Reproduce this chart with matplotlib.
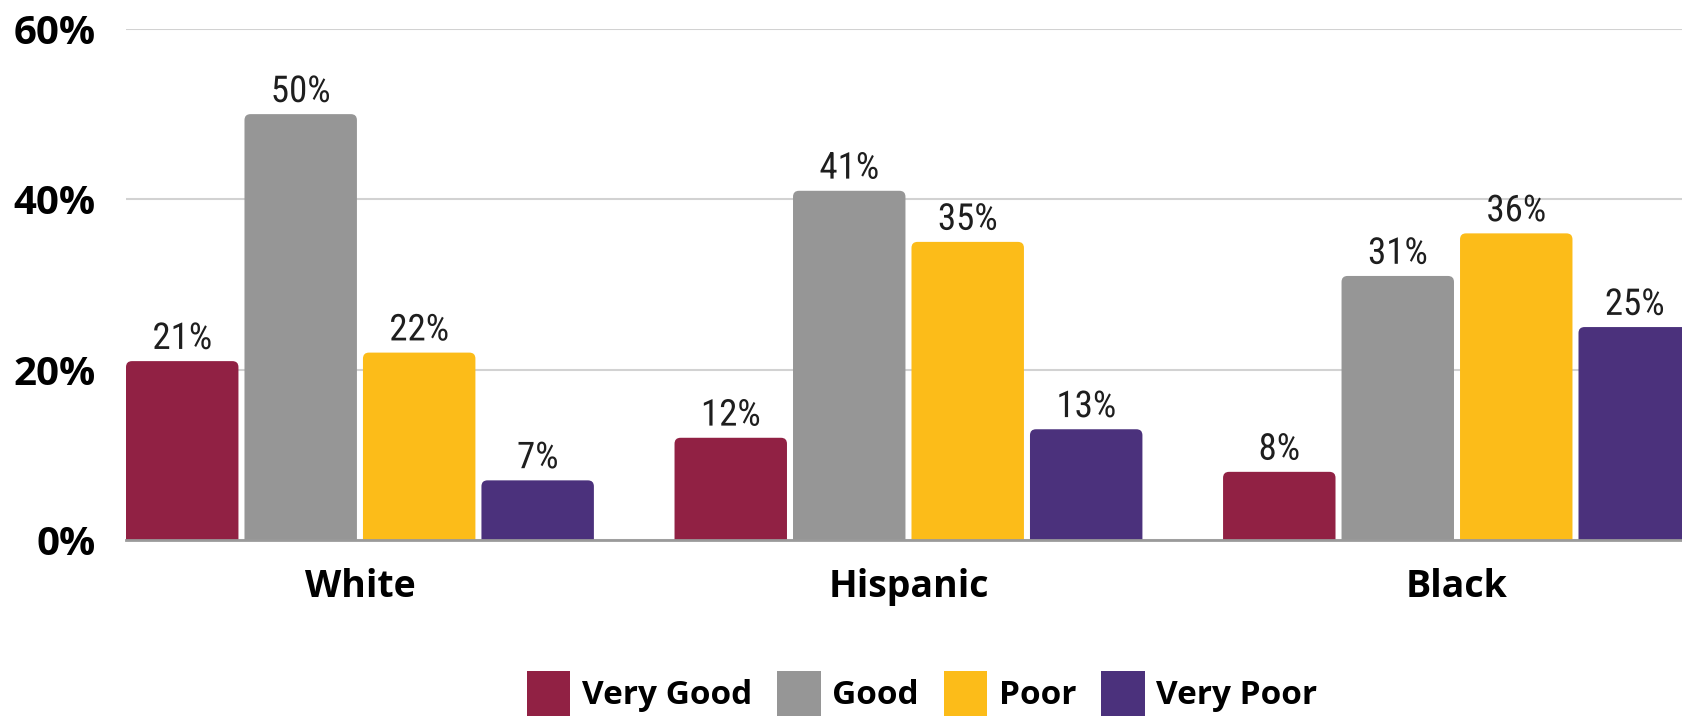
import numpy as np
import matplotlib.pyplot as plt
import matplotlib.transforms as mtransforms
from matplotlib import font_manager
from matplotlib.font_manager import FontProperties
from matplotlib.patches import FancyBboxPatch, Patch
from matplotlib.patheffects import AbstractPathEffect
from matplotlib.textpath import TextPath

groups = ["White", "Hispanic", "Black"]
series = ["Very Good", "Good", "Poor", "Very Poor"]
very_good = [21, 12, 8]
good = [50, 41, 31]
poor = [22, 35, 36]
very_poor = [7, 13, 25]
yticks = [0, 20, 40, 60]

colors = ["#912144", "#969696", "#FCBC19", "#4B317C"]
values = [very_good, good, poor, very_poor]

DPI = 100
fig = plt.figure(figsize=(16.83, 7.17), dpi=DPI)
ax = fig.add_axes([0.0748, 0.2469, 0.9252, 0.7127])

x = np.arange(len(groups))
step = 0.216
width = 0.205
xlim = (-0.4267, 2.412)
ax.set_xlim(*xlim)
ax.set_ylim(0, 60)

# pixel scales, used for the small rounding on top of the bars
ax_w = 0.9252 * 16.83 * DPI
ax_h = 0.7127 * 7.17 * DPI
px_x = ax_w / (xlim[1] - xlim[0])
px_y = ax_h / 60.0
r = 6 / px_x


class Squeeze(AbstractPathEffect):
    """draw text narrower than the font (the original uses a condensed face)"""

    def __init__(self, sx):
        super().__init__()
        self.sx = sx

    def draw_path(self, renderer, gc, tpath, affine, rgbFace=None):
        ext = tpath.get_extents()
        cx = (ext.x0 + ext.x1) / 2
        a = mtransforms.Affine2D().translate(-cx, 0).scale(self.sx, 1).translate(cx, 0) + affine
        renderer.draw_path(gc, tpath, a, rgbFace)


names = {f.name for f in font_manager.fontManager.ttflist}
narrow = None
for n in ["Liberation Sans Narrow", "Roboto Condensed", "Open Sans Condensed", "DejaVu Sans Condensed"]:
    if n in names:
        narrow = n
        break
if narrow:
    lab_prop = FontProperties(family=narrow)
else:
    lab_prop = FontProperties(family=["Roboto", "DejaVu Sans"], weight="light")

ext = TextPath((0, 0), "50%", size=1, prop=lab_prop).get_extents()
lab_size = 27 / ext.height * 72 / DPI          # points, so "50%" is ~27 px tall
squeeze = min(1.0, 58 / (ext.width * lab_size * DPI / 72))

handles = []
for i, (name, vals, col) in enumerate(zip(series, values, colors)):
    bars = ax.bar(x + (i - 1.5) * step, vals, width, color=col, zorder=3)
    for rect, v in zip(bars, vals):
        rect.set_visible(False)
        bx, bw = rect.get_x(), rect.get_width()
        ax.add_patch(FancyBboxPatch((bx, -3), bw, v + 3,
                                    boxstyle="round,pad=0,rounding_size=%f" % r,
                                    mutation_aspect=(6 / px_y) / r,
                                    facecolor=col, edgecolor="none", zorder=3))
    texts = ax.bar_label(bars, labels=["%d%%" % v for v in vals], padding=3,
                         fontproperties=lab_prop, fontsize=lab_size, color="#1e1e1e",
                         zorder=5, clip_on=False)
    for t in texts:
        t.set_path_effects([Squeeze(squeeze)])
    handles.append(Patch(facecolor=col, label=name))

ax.set_yticks(yticks)
ax.set_yticklabels(["%d%%" % t for t in yticks], fontsize=29, fontweight="bold",
                   family=["Open Sans", "DejaVu Sans"])
ax.set_xticks(x)
ax.set_xticklabels(groups, fontsize=27, fontweight="bold", family=["Open Sans", "DejaVu Sans"])
ax.tick_params(axis="y", length=0, pad=22)
ax.tick_params(axis="x", length=0, pad=20)

ax.yaxis.grid(True, color="#d2d2d2", linewidth=1.5, zorder=0)
ax.set_axisbelow(True)
for s in ["top", "right", "left"]:
    ax.spines[s].set_visible(False)
ax.spines["bottom"].set_color("#9a9a9a")
ax.spines["bottom"].set_linewidth(2)
ax.spines["bottom"].set_zorder(4)

leg = fig.legend(handles=handles, loc="center", bbox_to_anchor=(0.548, 0.033), ncol=4,
                 frameon=False,
                 prop={"family": ["Open Sans", "DejaVu Sans"], "weight": "bold", "size": 24},
                 handlelength=1.3, handleheight=1.7, handletextpad=0.35, columnspacing=0.75)

fig.savefig("out.png", dpi=DPI)
